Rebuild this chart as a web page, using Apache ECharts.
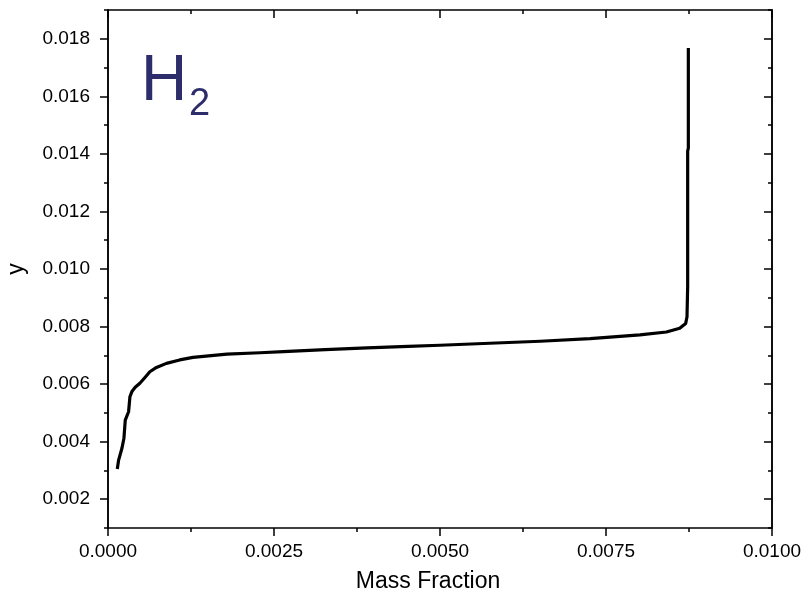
<!DOCTYPE html>
<html>
<head>
<meta charset="utf-8">
<script src="https://cdn.jsdelivr.net/npm/echarts@6/dist/echarts.min.js"></script>
<style>
  html, body { margin: 0; padding: 0; background: #fff; }
  #chart { width: 806px; height: 593px; }
</style>
</head>
<body>
<div id="chart"></div>
<script>
// H2 mass fraction profile along y
const massFraction = [
  0.00014, 0.00016, 0.00021, 0.00024, 0.00026, 0.00031, 0.00033, 0.00036,
  0.00041, 0.00048, 0.00056, 0.00063, 0.00073, 0.00088, 0.00108, 0.00128,
  0.00179, 0.00229, 0.00264, 0.00327, 0.00390, 0.00452, 0.00500, 0.00575,
  0.00651, 0.00726, 0.00801, 0.00841, 0.00861, 0.00870, 0.00872, 0.00873,
  0.00873, 0.00873, 0.00874, 0.00874
];
const yValues = [
  0.00305, 0.00336, 0.00377, 0.00412, 0.00475, 0.00504, 0.00556, 0.00574,
  0.00589, 0.00603, 0.00624, 0.00643, 0.00658, 0.00672, 0.00684, 0.00693,
  0.00704, 0.00709, 0.00713, 0.00720, 0.00726, 0.00731, 0.00735, 0.00742,
  0.00749, 0.00758, 0.00771, 0.00781, 0.00794, 0.00811, 0.00834, 0.00940,
  0.01200, 0.01410, 0.01420, 0.01768
];

// axis ticks
const xTicks = [0, 0.0025, 0.005, 0.0075, 0.01];
const yMajorTicks = [0.002, 0.004, 0.006, 0.008, 0.010, 0.012, 0.014, 0.016, 0.018];
const yMinorTicks = [0.001, 0.003, 0.005, 0.007, 0.009, 0.011, 0.013, 0.015, 0.017, 0.019];

const FONT = '"Liberation Sans", Arial, sans-serif';
const AX = { color: '#000', width: 1.5 };
const xMin = xTicks[0], xMax = xTicks[xTicks.length - 1];
const yMin = 0.001, yMax = 0.019;

const points = massFraction.map((v, i) => [v, yValues[i]]);

function yAxisDef(position, values, len, showLabel, inside) {
  return {
    type: 'value', position, min: yMin, max: yMax,
    axisLine: { show: true, onZero: false, lineStyle: AX },
    axisTick: { show: true, inside, length: len, lineStyle: AX, customValues: values },
    axisLabel: {
      show: showLabel, customValues: values, margin: 18,
      fontFamily: FONT, fontSize: 19, color: '#000',
      formatter: v => v.toFixed(3)
    },
    splitLine: { show: false }
  };
}

const chart = echarts.init(document.getElementById('chart'), null, { renderer: 'canvas' });
chart.setOption({
  animation: false,
  backgroundColor: '#fff',
  grid: { left: 108, right: 34, top: 10, bottom: 65, containLabel: false, outerBoundsMode: 'none' },
  xAxis: [
    {
      type: 'value', position: 'bottom', min: xMin, max: xMax, interval: 0.0025,
      name: 'Mass Fraction', nameLocation: 'middle', nameGap: 42,
      nameTextStyle: { fontFamily: FONT, fontSize: 23, color: '#000', padding: [0, 24, 0, 0] },
      axisLine: { show: true, onZero: false, lineStyle: AX },
      axisTick: { show: true, inside: false, length: 8, lineStyle: AX },
      minorTick: { show: true, splitNumber: 2, length: 4, lineStyle: AX },
      axisLabel: { fontFamily: FONT, fontSize: 19, color: '#000', margin: 14,
        formatter: v => v.toFixed(4) },
      splitLine: { show: false }
    },
    {
      type: 'value', position: 'top', min: xMin, max: xMax, interval: 0.0025,
      axisLine: { show: true, onZero: false, lineStyle: AX },
      axisTick: { show: true, inside: true, length: 8, lineStyle: AX },
      minorTick: { show: true, splitNumber: 2, length: 4, lineStyle: AX },
      axisLabel: { show: false },
      splitLine: { show: false }
    }
  ],
  yAxis: [
    Object.assign(yAxisDef('left', yMajorTicks, 8, true, false), {
      name: 'y', nameLocation: 'middle', nameGap: 80,
      nameTextStyle: { fontFamily: FONT, fontSize: 23, color: '#000' }
    }),
    yAxisDef('left', yMinorTicks, 4, false, false),
    yAxisDef('right', yMajorTicks, 8, false, true),
    yAxisDef('right', yMinorTicks, 4, false, true)
  ],
  graphic: [
    { type: 'text', left: 141, top: 50, z: 10,
      style: { text: 'H', fontFamily: FONT, fontSize: 64, fill: '#2d2d6b' } },
    { type: 'text', left: 189, top: 86, z: 10,
      style: { text: '2', fontFamily: FONT, fontSize: 38, fill: '#2d2d6b' } }
  ],
  series: [{
    type: 'line',
    xAxisIndex: 0, yAxisIndex: 0,
    data: points,
    showSymbol: false,
    symbol: 'none',
    smooth: false,
    lineStyle: { color: '#000', width: 3.2, join: 'round', cap: 'butt' }
  }]
});
</script>
</body>
</html>
